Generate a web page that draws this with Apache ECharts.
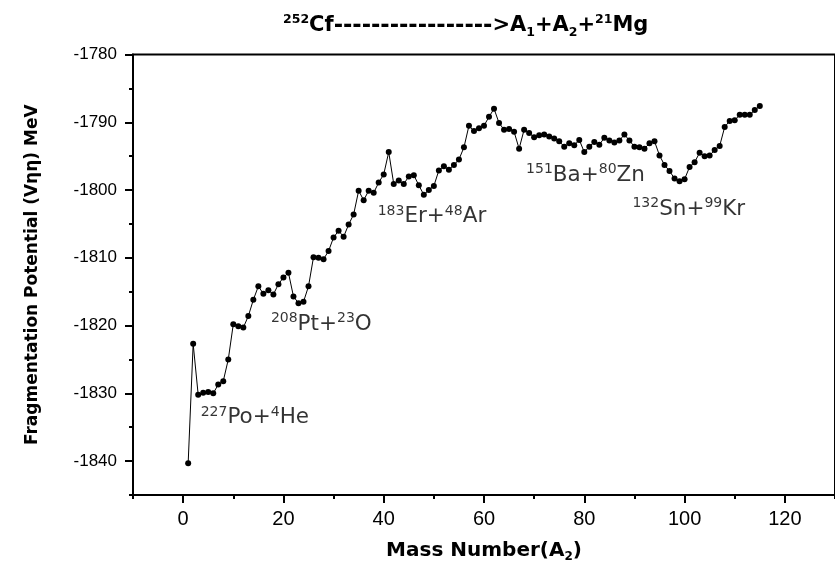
<!DOCTYPE html>
<html><head><meta charset="utf-8">
<script src="https://cdn.jsdelivr.net/npm/echarts@6/dist/echarts.min.js"></script>
<style>html,body{margin:0;padding:0;background:#fff}#c{width:835px;height:569px}</style>
</head><body><div id="c"></div>
<script>
const massNumbers = [];
for (let a = 1; a <= 115; a++) massNumbers.push(a);
const potentials = [
  -1840.3, -1822.7, -1830.2, -1829.9, -1829.8, -1830.0, -1828.7, -1828.2, -1825.0, -1819.8,
  -1820.1, -1820.3, -1818.6, -1816.2, -1814.2, -1815.3, -1814.8, -1815.4, -1813.9, -1812.9,
  -1812.2, -1815.7, -1816.7, -1816.5, -1814.2, -1809.9, -1810.0, -1810.2, -1809.0, -1807.0,
  -1806.0, -1806.9, -1805.1, -1803.6, -1800.1, -1801.5, -1800.1, -1800.4, -1798.9, -1797.7,
  -1794.4, -1799.1, -1798.6, -1799.1, -1798.0, -1797.8, -1799.3, -1800.7, -1800.0, -1799.4,
  -1797.1, -1796.5, -1797.0, -1796.3, -1795.5, -1793.7, -1790.5, -1791.3, -1790.9, -1790.5,
  -1789.2, -1788.0, -1790.1, -1791.1, -1791.0, -1791.4, -1793.9, -1791.1, -1791.6, -1792.2,
  -1791.9, -1791.8, -1792.1, -1792.4, -1792.8, -1793.6, -1793.1, -1793.4, -1792.6, -1794.4,
  -1793.6, -1792.9, -1793.3, -1792.3, -1792.7, -1793.0, -1792.7, -1791.8, -1792.7, -1793.6,
  -1793.7, -1793.9, -1793.1, -1792.8, -1794.9, -1796.3, -1797.2, -1798.3, -1798.7, -1798.4,
  -1796.6, -1795.9, -1794.5, -1795.0, -1794.9, -1794.1, -1793.5, -1790.7, -1789.8, -1789.7,
  -1788.9, -1788.9, -1788.9, -1788.2, -1787.6
];
const xTickValues = [0, 20, 40, 60, 80, 100, 120];
const xMinorTickValues = [-10, 10, 30, 50, 70, 90, 110, 130];
const yTickValues = [-1840, -1830, -1820, -1810, -1800, -1790, -1780];
const yMinorTickValues = [-1845, -1835, -1825, -1815, -1805, -1795, -1785];
const annX = [3.5, 17.5, 38.8, 68.4, 89.6];
const annY = [-1833.6, -1819.8, -1803.9, -1797.8, -1802.8];
const annSupA = ['227', '208', '183', '151', '132'];
const annElA = ['Po', 'Pt', 'Er', 'Ba', 'Sn'];
const annSupB = ['4', '23', '48', '80', '99'];
const annElB = ['He', 'O', 'Ar', 'Zn', 'Kr'];

const FONT = 'DejaVu Sans';
const ARIAL = 'Liberation Sans';
const black = '#000';
const chart = echarts.init(document.getElementById('c'));

const titleText = '{sup|252}{m|Cf}{d|' + '-'.repeat(17) + '}{m|>A}{sub|1}{m|+A}{sub|2}{m|+}{sup|21}{m|Mg}';

const axisCommon = {
  type: 'value',
  splitLine: { show: false },
  axisLine: { show: true, onZero: false, lineStyle: { color: black, width: 2 } },
};

chart.setOption({
  animation: false,
  backgroundColor: '#fff',
  title: {
    text: titleText,
    left: 278,
    top: 8,
    textStyle: {
      rich: {
        m: { fontFamily: FONT, fontWeight: 'bold', fontSize: 21, color: black, lineHeight: 26 },
        d: { fontFamily: FONT, fontWeight: 'bold', fontSize: 22.5, color: black, lineHeight: 26 },
        sup: { fontFamily: FONT, fontWeight: 'bold', fontSize: 12.5, color: black, lineHeight: 12, verticalAlign: 'top' },
        sub: { fontFamily: FONT, fontWeight: 'bold', fontSize: 12.5, color: black, lineHeight: 12, verticalAlign: 'bottom' }
      }
    }
  },
  grid: {
    left: 133, right: -4, top: 54.5, bottom: 74,
    show: true, borderColor: black, borderWidth: 2, backgroundColor: 'transparent'
  },
  xAxis: [
    Object.assign({}, axisCommon, {
      min: -10, max: 130, position: 'bottom',
      axisTick: { show: true, customValues: xTickValues, length: 8, lineStyle: { color: black, width: 2 } },
      axisLabel: { customValues: xTickValues, color: black, fontFamily: ARIAL, fontSize: 20, margin: 14 },
      name: '{b|Mass Number(A}{s|2}{b|)}',
      nameLocation: 'middle', nameGap: 44,
      nameTextStyle: {
        rich: {
          b: { fontFamily: FONT, fontWeight: 'bold', fontSize: 20, color: black, lineHeight: 24 },
          s: { fontFamily: FONT, fontWeight: 'bold', fontSize: 12, color: black, lineHeight: 12, verticalAlign: 'bottom' }
        }
      }
    }),
    Object.assign({}, axisCommon, {
      min: -10, max: 130, position: 'bottom',
      axisLine: { show: false, onZero: false },
      axisTick: { show: true, customValues: xMinorTickValues, length: 4, lineStyle: { color: black, width: 2 } },
      axisLabel: { show: false }
    })
  ],
  yAxis: [
    Object.assign({}, axisCommon, {
      min: -1845, max: -1780, position: 'left',
      axisTick: { show: true, customValues: yTickValues, length: 8, lineStyle: { color: black, width: 2 } },
      axisLabel: { customValues: yTickValues, color: black, fontFamily: ARIAL, fontSize: 17, margin: 16, formatter: v => String(v) },
      name: 'Fragmentation Potential (Vηη) MeV',
      nameLocation: 'middle', nameGap: 92, nameRotate: 90,
      nameTextStyle: { fontFamily: FONT, fontWeight: 'bold', fontSize: 17, color: black }
    }),
    Object.assign({}, axisCommon, {
      min: -1845, max: -1780, position: 'left',
      axisLine: { show: false, onZero: false },
      axisTick: { show: true, customValues: yMinorTickValues, length: 4, lineStyle: { color: black, width: 2 } },
      axisLabel: { show: false }
    })
  ],
  series: [
    {
      type: 'line',
      xAxisIndex: 0, yAxisIndex: 0,
      data: massNumbers.map((a, i) => [a, potentials[i]]),
      symbol: 'circle', symbolSize: 6,
      itemStyle: { color: black },
      lineStyle: { color: black, width: 1 },
      silent: true
    },
    {
      type: 'scatter',
      xAxisIndex: 0, yAxisIndex: 0,
      data: annX.map((x, i) => [x, annY[i]]),
      symbolSize: 0,
      silent: true,
      label: {
        show: true, position: 'right', distance: 0, color: black,
        formatter: p => {
          const i = p.dataIndex;
          return '{sup|' + annSupA[i] + '}{m|' + annElA[i] + '+}{sup|' + annSupB[i] + '}{m|' + annElB[i] + '}';
        },
        rich: {
          m: { fontFamily: FONT, fontSize: 21.5, color: black, lineHeight: 25 },
          sup: { fontFamily: FONT, fontSize: 14, color: black, lineHeight: 14, verticalAlign: 'top' }
        }
      }
    }
  ]
});
</script>
</body></html>
